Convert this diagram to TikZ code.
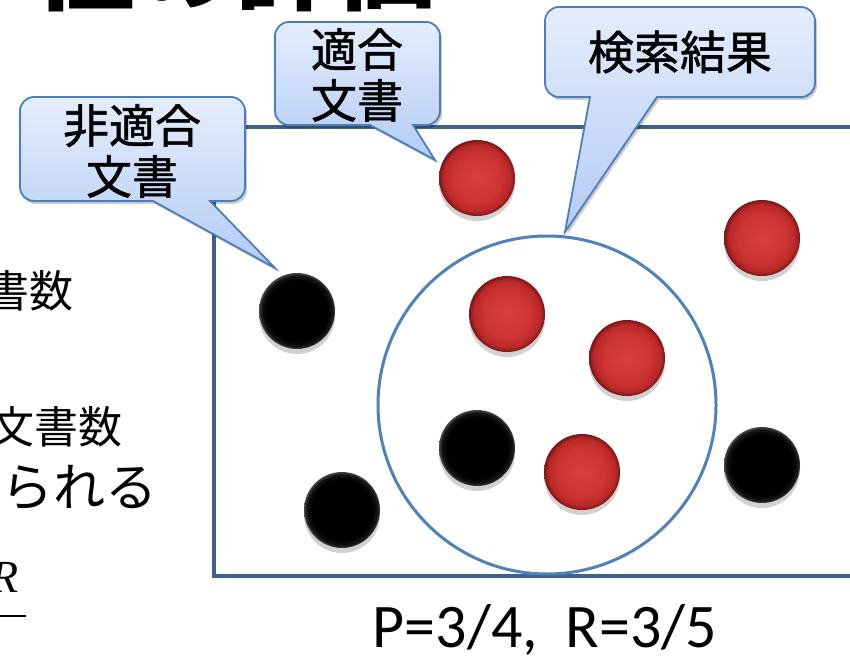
\documentclass[tikz,border=0pt]{standalone}
\usepackage{fontspec}
\setmainfont{Carlito}
\newfontfamily\cjk{Noto Sans CJK JP}
\newfontfamily\cjkm[FakeBold=1.2]{Noto Sans CJK JP}
\newfontfamily\serifit{Liberation Serif}

\definecolor{rectc}{HTML}{3F5F8E}
\definecolor{circc}{HTML}{4F81BD}
\definecolor{callb}{HTML}{4A7EBB}
\definecolor{calltop}{HTML}{E4EDFC}
\definecolor{callbot}{HTML}{B3CBF5}
\definecolor{rA}{HTML}{D83F3F}
\definecolor{rA2}{HTML}{CF3434}
\definecolor{rB}{HTML}{BA2828}
\definecolor{rC}{HTML}{7A1616}
\definecolor{kA}{HTML}{000000}
\definecolor{kB}{HTML}{161616}
\definecolor{kC}{HTML}{4A4A4A}

\pgfdeclareradialshading{redballsh}{\pgfpointorigin}{color(0bp)=(rA); color(15bp)=(rA2); color(22bp)=(rB); color(25bp)=(rC); color(50bp)=(rC)}
\pgfdeclareradialshading{blackballsh}{\pgfpointorigin}{color(0bp)=(kA); color(20bp)=(kA); color(23.5bp)=(kB); color(25bp)=(kC); color(50bp)=(kC)}

\tikzset{
  ballbase/.style={circle, minimum size=76pt, inner sep=0pt,
    preaction={fill=black, opacity=0.18, transform canvas={yshift=-5pt}}},
  redball/.style={ballbase, shading=redballsh},
  blackball/.style={ballbase, shading=blackballsh},
  callout/.style={draw=callb, line width=1.8pt, top color=calltop, bottom color=callbot,
    preaction={fill=black, opacity=0.2, transform canvas={shift={(2pt,-3pt)}}}},
  callouttext/.style={font=\cjkm\fontsize{46}{51}\selectfont, align=center, inner sep=0pt},
  sidetext/.style={anchor=base east, inner sep=0pt},
}

\begin{document}
\begin{tikzpicture}[x=1pt, y=-1pt]
\useasboundingbox (0,0) rectangle (850,655);
\clip (0,0) rectangle (850,655);
\fill[white] (0,0) rectangle (850,655);

% title fragment
\node[anchor=base east, inner sep=0pt, font=\cjk\bfseries\fontsize{100}{100}\selectfont] (title) at (436,3) {性の評価};

% left text fragments
\node[sidetext, font=\cjk\fontsize{44}{44}\selectfont] (t1) at (74,307) {文書数};
\node[sidetext, font=\cjk\fontsize{44}{44}\selectfont] (t2) at (123,443) {文書数};
\node[sidetext, font=\cjk\fontsize{52}{52}\selectfont] (t3) at (158,506) {られる};
\node[sidetext, font=\serifit\itshape\fontsize{46}{46}\selectfont] (t4) at (19,592) {R};
\draw[line width=2.5pt] (-5,616) -- (26,616);

% document set rectangle
\draw[rectc, line width=4pt] (900,127) -- (214,127) -- (214,576) -- (900,576);

% search result circle
\node[circle, draw=circc, line width=3pt, minimum size=338pt, inner sep=0pt] (res) at (547,405) {};

% relevant documents (red)
\node[redball] (r1) at (477,178) {};
\node[redball] (r2) at (507,314) {};
\node[redball] (r3) at (627,358) {};
\node[redball] (r4) at (762,238) {};
\node[redball] (r5) at (582,472) {};

% non-relevant documents (black)
\node[blackball] (k1) at (297,311) {};
\node[blackball] (k2) at (477,448) {};
\node[blackball] (k3) at (342,510) {};
\node[blackball] (k4) at (762,465) {};

% callouts
\path[callout] (132,97) [rounded corners=14pt] -- (245,97) -- (245,201) [sharp corners] -- (210,201) -- (275,268) -- (153,201) [rounded corners=14pt] -- (20,201) -- (20,97) -- cycle;
\node[callouttext] (c1) at (132,151) {非適合\\文書};

\path[callout] (357,22) [rounded corners=14pt] -- (440,22) -- (440,125) [sharp corners] -- (413,125) -- (435,160) -- (370,125) [rounded corners=14pt] -- (275,125) -- (275,22) -- cycle;
\node[callouttext] (c2) at (357,75) {適合\\文書};

\path[callout] (680,7) [rounded corners=14pt] -- (815,7) -- (815,97) [sharp corners] -- (657,97) -- (565,232) -- (590,97) [rounded corners=14pt] -- (545,97) -- (545,7) -- cycle;
\node[callouttext] (c3) at (680,52) {検索結果};

% result
\node[anchor=base, inner sep=0pt, font=\fontsize{62}{62}\selectfont] (pr) at (545,647) {P=3/4,\ \ R=3/5};
\end{tikzpicture}
\end{document}
